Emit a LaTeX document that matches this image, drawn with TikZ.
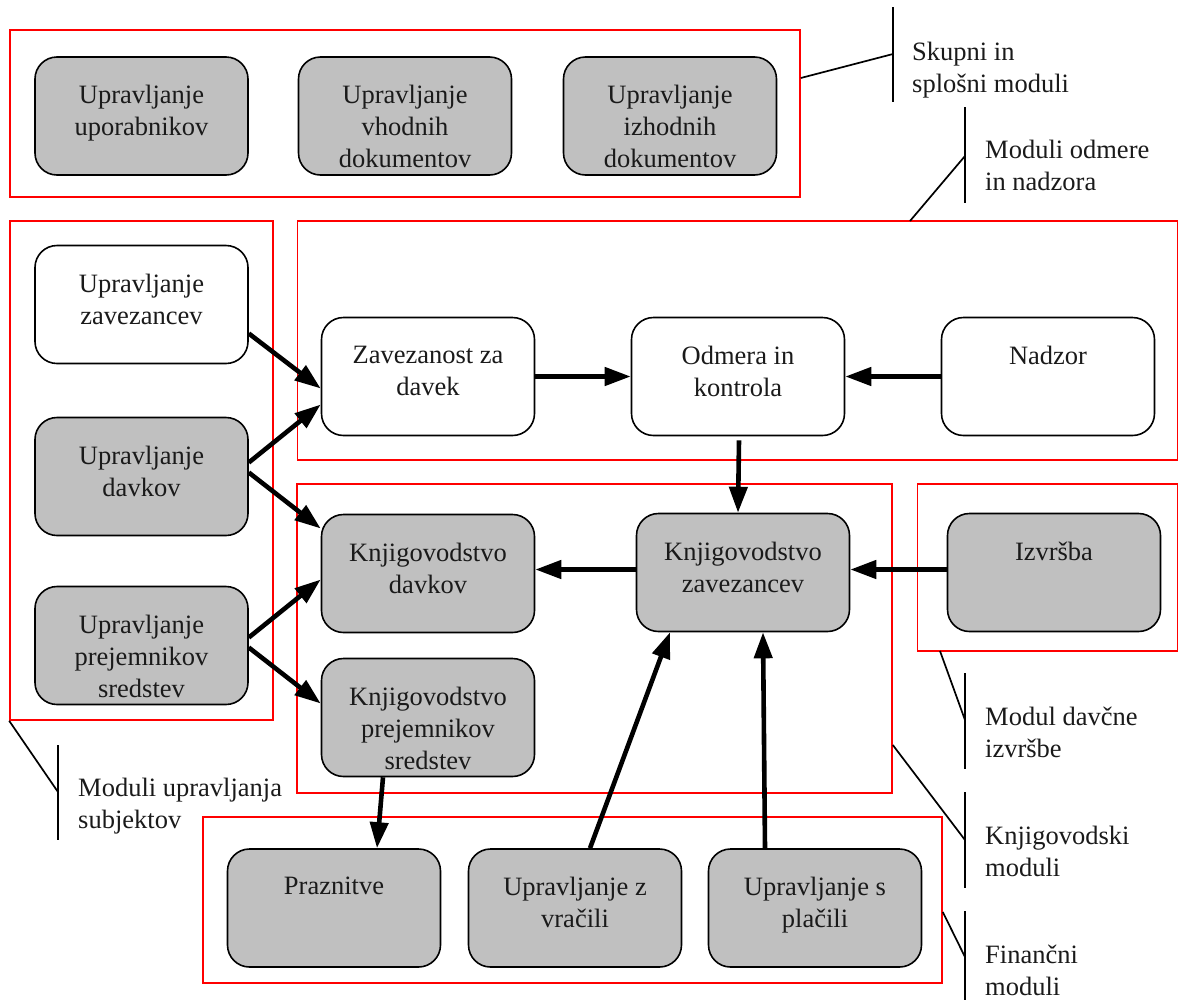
\documentclass[tikz,border=0pt]{standalone}
\usepackage{fontspec}
\setmainfont{Liberation Serif}
\usetikzlibrary{arrows.meta}
\definecolor{boxgray}{HTML}{C0C0C0}
\definecolor{txtcol}{HTML}{1A1A1A}
\newcommand{\bodyfont}{\fontsize{26.5}{32}\selectfont}
\begin{document}
\begin{tikzpicture}[x=1pt,y=-1pt,
  box/.style={draw=black, line width=1.6pt, rounded corners=22pt,
    minimum width=213pt, minimum height=118pt, inner sep=0pt},
  gbox/.style={box, fill=boxgray},
  wbox/.style={box, fill=white},
  txt/.style={label={[anchor=north, yshift=-29pt, align=center, inner sep=0pt,
    font=\bodyfont, text=txtcol]north:{#1}}},
  grp/.style={draw=red, line width=1.6pt, inner sep=0pt},
  arr/.style={line width=4.6pt, -{Triangle[length=26pt,width=18pt]}},
  lead/.style={line width=1.7pt},
  note/.style={anchor=north west, align=left, inner sep=0pt, font=\bodyfont, text=txtcol},
]
\useasboundingbox (0,0) rectangle (1180,999);

% module groups
\node[grp, minimum width=790pt, minimum height=167pt] (g1) at (405,113.5) {};
\node[grp, minimum width=263pt, minimum height=499pt] (g2) at (141.5,470.5) {};
\node[grp, minimum width=880pt, minimum height=239pt] (g3) at (737.5,340.5) {};
\node[grp, minimum width=595pt, minimum height=309pt] (g4) at (594.5,638.5) {};
\node[grp, minimum width=260pt, minimum height=167pt] (g5) at (1047.5,567.5) {};
\node[grp, minimum width=739pt, minimum height=166pt] (g6) at (572.5,900) {};

% modules
\node[gbox, txt={Upravljanje\\uporabnikov}] (uu) at (141.5,116) {};
\node[gbox, txt={Upravljanje\\vhodnih\\dokumentov}] (uv) at (405,116) {};
\node[gbox, txt={Upravljanje\\izhodnih\\dokumentov}] (ui) at (670,116) {};

\node[wbox, txt={Upravljanje\\zavezancev}] (uz) at (141.5,304.5) {};
\node[gbox, txt={Upravljanje\\davkov}] (ud) at (141.5,476.5) {};
\node[gbox, txt={Upravljanje\\prejemnikov\\sredstev}] (up) at (141.5,645.5) {};

\node[wbox, txt={Zavezanost za\\davek}] (zd) at (428,376.5) {};
\node[wbox, txt={Odmera in\\kontrola}] (ok) at (738,376.5) {};
\node[wbox, txt={Nadzor}] (nz) at (1048,376.5) {};

\node[gbox, txt={Knjigovodstvo\\davkov}] (kd) at (428,573.5) {};
\node[gbox, txt={Knjigovodstvo\\zavezancev}] (kz) at (743,572.5) {};
\node[gbox, txt={Izvršba}] (iz) at (1054,572.5) {};
\node[gbox, txt={Knjigovodstvo\\prejemnikov\\sredstev}] (kp) at (428,717.5) {};

\node[gbox, txt={Praznitve}] (pr) at (334,908) {};
\node[gbox, txt={Upravljanje z\\vračili}] (vr) at (575,908) {};
\node[gbox, txt={Upravljanje s\\plačili}] (pl) at (815,908) {};

% data flows
\draw[arr] ([yshift=-29pt]uz.east) -- ([yshift=-12pt]zd.west);
\draw[arr] ([yshift=14pt]ud.east) -- ([yshift=-28pt]zd.west);
\draw[arr] ([yshift=4pt]ud.east) -- ([yshift=45pt]kd.west);
\draw[arr] ([yshift=8pt]up.east) -- ([yshift=-6pt]kd.west);
\draw[arr] ([yshift=-2pt]up.east) -- ([yshift=14pt]kp.west);
\draw[arr] (zd.east) -- (ok.west);
\draw[arr] (nz.west) -- (ok.east);
\draw[arr] ([xshift=1pt,yshift=-4pt]ok.south) -- ([xshift=-5pt]kz.north);
\draw[arr] ([yshift=3pt]kz.west) -- ([yshift=3pt]kz.west -| kd.east);
\draw[arr] ([yshift=3pt]iz.west) -- ([yshift=3pt]iz.west -| kz.east);
\draw[arr] ([xshift=-45pt]kp.south) -- ([xshift=43pt]pr.north);
\draw[arr] ([xshift=15pt]vr.north) -- ([xshift=-73pt]kz.south);
\draw[arr] ([xshift=-50pt]pl.north) -- ([xshift=20pt]kz.south);

% group captions
\coordinate (c1) at (893,54);
\draw[lead] (893,7) -- (893,102);
\draw[lead] (g1.east |- 0,78) -- (c1);
\node[note] (n1) at (912,42) {Skupni in\\splošni moduli};

\coordinate (c2) at (965,156);
\draw[lead] (965,107) -- (965,203);
\draw[lead] (910,221) -- (c2);
\node[note] (n2) at (985,140) {Moduli odmere\\in nadzora};

\coordinate (c3) at (965,720);
\draw[lead] (965,673) -- (965,769);
\draw[lead] (940,651) -- (c3);
\node[note] (n3) at (985,707) {Modul davčne\\izvršbe};

\coordinate (c4) at (965,840);
\draw[lead] (965,792) -- (965,888);
\draw[lead] (g4.east |- 0,745) -- (c4);
\node[note] (n4) at (985,826) {Knjigovodski\\moduli};

\coordinate (c5) at (965,957);
\draw[lead] (965,911) -- (965,1003);
\draw[lead] (g6.east |- 0,912) -- (c5);
\node[note] (n5) at (985,945) {Finančni\\moduli};

\coordinate (c6) at (58,792);
\draw[lead] (58,745) -- (58,840);
\draw[lead] (g2.south west) -- (c6);
\node[note] (n6) at (78,778) {Moduli upravljanja\\subjektov};
\end{tikzpicture}
\end{document}
